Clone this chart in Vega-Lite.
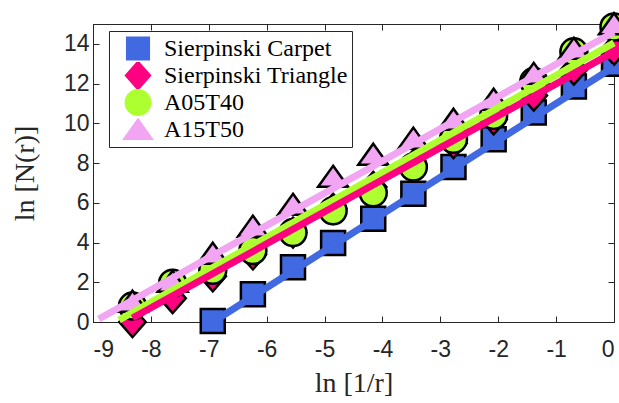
{
  "$schema": "https://vega.github.io/schema/vega-lite/v6.json",
  "width": 521,
  "height": 298,
  "autosize": "none",
  "padding": {"left": 93, "top": 24, "right": 5, "bottom": 81},
  "background": "white",
  "config": {
    "view": {"stroke": "#262626", "strokeWidth": 1},
    "axis": {
      "labelFont": "Liberation Sans",
      "labelFontSize": 23,
      "labelColor": "#262626",
      "domainColor": "#262626",
      "tickColor": "#262626",
      "tickSize": -6,
      "grid": false,
      "titleFont": "Liberation Serif",
      "titleFontSize": 28,
      "titleFontWeight": "normal",
      "titleColor": "#262626"
    },
    "legend": {
      "orient": "none",
      "legendX": 16,
      "legendY": 7,
      "strokeColor": "#262626",
      "fillColor": "white",
      "padding": 4,
      "symbolSize": 729,
      "symbolStrokeWidth": 2.5,
      "symbolOffset": 10,
      "labelFont": "Liberation Serif",
      "labelFontSize": 24,
      "labelColor": "black",
      "labelOffset": 11,
      "labelLimit": 400,
      "rowPadding": 0,
      "clipHeight": 27
    }
  },
  "datasets": {
    "pts": [
      {"series": "Sierpinski Carpet", "x": -6.931, "y": 0.05},
      {"series": "Sierpinski Carpet", "x": -6.238, "y": 1.4},
      {"series": "Sierpinski Carpet", "x": -5.545, "y": 2.75},
      {"series": "Sierpinski Carpet", "x": -4.852, "y": 3.98},
      {"series": "Sierpinski Carpet", "x": -4.159, "y": 5.2},
      {"series": "Sierpinski Carpet", "x": -3.466, "y": 6.45},
      {"series": "Sierpinski Carpet", "x": -2.773, "y": 7.8},
      {"series": "Sierpinski Carpet", "x": -2.079, "y": 9.2},
      {"series": "Sierpinski Carpet", "x": -1.386, "y": 10.55},
      {"series": "Sierpinski Carpet", "x": -0.693, "y": 11.85},
      {"series": "Sierpinski Carpet", "x": 0, "y": 13.0},
      {"series": "Sierpinski Triangle", "x": -8.318, "y": 0.0},
      {"series": "Sierpinski Triangle", "x": -7.625, "y": 1.2},
      {"series": "Sierpinski Triangle", "x": -6.931, "y": 2.3},
      {"series": "Sierpinski Triangle", "x": -6.238, "y": 3.4},
      {"series": "Sierpinski Triangle", "x": -5.545, "y": 4.5},
      {"series": "Sierpinski Triangle", "x": -4.852, "y": 5.7},
      {"series": "Sierpinski Triangle", "x": -4.159, "y": 6.8},
      {"series": "Sierpinski Triangle", "x": -3.466, "y": 7.9},
      {"series": "Sierpinski Triangle", "x": -2.773, "y": 9.0},
      {"series": "Sierpinski Triangle", "x": -2.079, "y": 10.2},
      {"series": "Sierpinski Triangle", "x": -1.386, "y": 11.4},
      {"series": "Sierpinski Triangle", "x": -0.693, "y": 12.7},
      {"series": "Sierpinski Triangle", "x": 0, "y": 13.7},
      {"series": "A05T40", "x": -8.318, "y": 0.8},
      {"series": "A05T40", "x": -7.625, "y": 1.95},
      {"series": "A05T40", "x": -6.931, "y": 2.6},
      {"series": "A05T40", "x": -6.238, "y": 3.6},
      {"series": "A05T40", "x": -5.545, "y": 4.5},
      {"series": "A05T40", "x": -4.852, "y": 5.6},
      {"series": "A05T40", "x": -4.159, "y": 6.5},
      {"series": "A05T40", "x": -3.466, "y": 7.8},
      {"series": "A05T40", "x": -2.773, "y": 9.2},
      {"series": "A05T40", "x": -2.079, "y": 10.4},
      {"series": "A05T40", "x": -1.386, "y": 12.1},
      {"series": "A05T40", "x": -0.693, "y": 13.6},
      {"series": "A05T40", "x": 0, "y": 14.85},
      {"series": "A15T50", "x": -8.318, "y": 1.03},
      {"series": "A15T50", "x": -7.625, "y": 2.04},
      {"series": "A15T50", "x": -6.931, "y": 3.45},
      {"series": "A15T50", "x": -6.238, "y": 4.81},
      {"series": "A15T50", "x": -5.545, "y": 5.91},
      {"series": "A15T50", "x": -4.852, "y": 7.32},
      {"series": "A15T50", "x": -4.159, "y": 8.43},
      {"series": "A15T50", "x": -3.466, "y": 9.24},
      {"series": "A15T50", "x": -2.773, "y": 10.19},
      {"series": "A15T50", "x": -2.079, "y": 11.2},
      {"series": "A15T50", "x": -1.386, "y": 12.5},
      {"series": "A15T50", "x": -0.693, "y": 13.76},
      {"series": "A15T50", "x": 0, "y": 15.0}
    ],
    "fits": [
      {"fit": "Sierpinski Carpet", "x": -6.931, "y": 0.0},
      {"fit": "Sierpinski Carpet", "x": 0, "y": 12.85},
      {"fit": "A15T50", "x": -8.9, "y": 0.15},
      {"fit": "A15T50", "x": 0, "y": 14.6},
      {"fit": "A05T40", "x": -8.55, "y": 0.1},
      {"fit": "A05T40", "x": 0, "y": 14.05},
      {"fit": "Sierpinski Triangle", "x": -8.318, "y": 0.2},
      {"fit": "Sierpinski Triangle", "x": 0, "y": 13.6}
    ]
  },
  "resolve": {"axis": {"x": "independent", "y": "independent"}},
  "layer": [
    {
      "data": {"name": "pts"},
      "mark": {"type": "point", "filled": true, "stroke": "black", "strokeWidth": 2.5, "size": 900, "opacity": 1},
      "encoding": {
        "x": {
          "field": "x", "type": "quantitative",
          "scale": {"domain": [-9, 0], "nice": false, "zero": false},
          "axis": {"orient": "bottom", "values": [-9, -8, -7, -6, -5, -4, -3, -2, -1, 0], "title": "ln [1/r]", "labelPadding": 22, "titlePadding": 8,
            "labelExpr": "datum.value < 0 ? '-' + format(-datum.value, 'd') : format(datum.value, 'd')"}
        },
        "y": {
          "field": "y", "type": "quantitative",
          "scale": {"domain": [0, 15], "nice": false, "zero": false},
          "axis": {"orient": "left", "values": [0, 2, 4, 6, 8, 10, 12, 14], "title": "ln [N(r)]", "labelPadding": 10, "titlePadding": 24}
        },
        "color": {
          "field": "series", "type": "nominal",
          "scale": {"domain": ["Sierpinski Carpet", "Sierpinski Triangle", "A05T40", "A15T50"], "range": ["#4169E1", "#FF0080", "#ADFF2F", "#F2A5F2"]},
          "legend": {"title": null}
        },
        "shape": {
          "field": "series", "type": "nominal",
          "scale": {"domain": ["Sierpinski Carpet", "Sierpinski Triangle", "A05T40", "A15T50"], "range": [
            "M-0.8,-0.8L0.8,-0.8L0.8,0.8L-0.8,0.8Z",
            "M0,-1L0.88,0L0,1L-0.88,0Z",
            "M-0.9,0A0.9,0.9 0 1,0 0.9,0A0.9,0.9 0 1,0 -0.9,0Z",
            "M0,-0.72L1,0.68L-1,0.68Z"
          ]},
          "legend": {"title": null}
        }
      }
    },
    {
      "data": {"name": "fits"},
      "mark": {"type": "line", "strokeWidth": 7, "strokeCap": "butt"},
      "encoding": {
        "x": {"field": "x", "type": "quantitative", "axis": null},
        "y": {"field": "y", "type": "quantitative", "axis": null},
        "stroke": {
          "field": "fit", "type": "nominal",
          "scale": {"domain": ["Sierpinski Carpet", "Sierpinski Triangle", "A05T40", "A15T50"], "range": ["#4169E1", "#FF0080", "#ADFF2F", "#F2A5F2"]},
          "legend": null
        }
      }
    },
    {
      "data": {"name": "pts"},
      "mark": {"type": "point", "opacity": 0},
      "encoding": {
        "x": {"field": "x", "type": "quantitative", "axis": {"orient": "top", "values": [-9, -8, -7, -6, -5, -4, -3, -2, -1, 0], "labels": false, "title": null}},
        "y": {"field": "y", "type": "quantitative", "axis": {"orient": "right", "values": [0, 2, 4, 6, 8, 10, 12, 14], "labels": false, "title": null}}
      }
    }
  ]
}
